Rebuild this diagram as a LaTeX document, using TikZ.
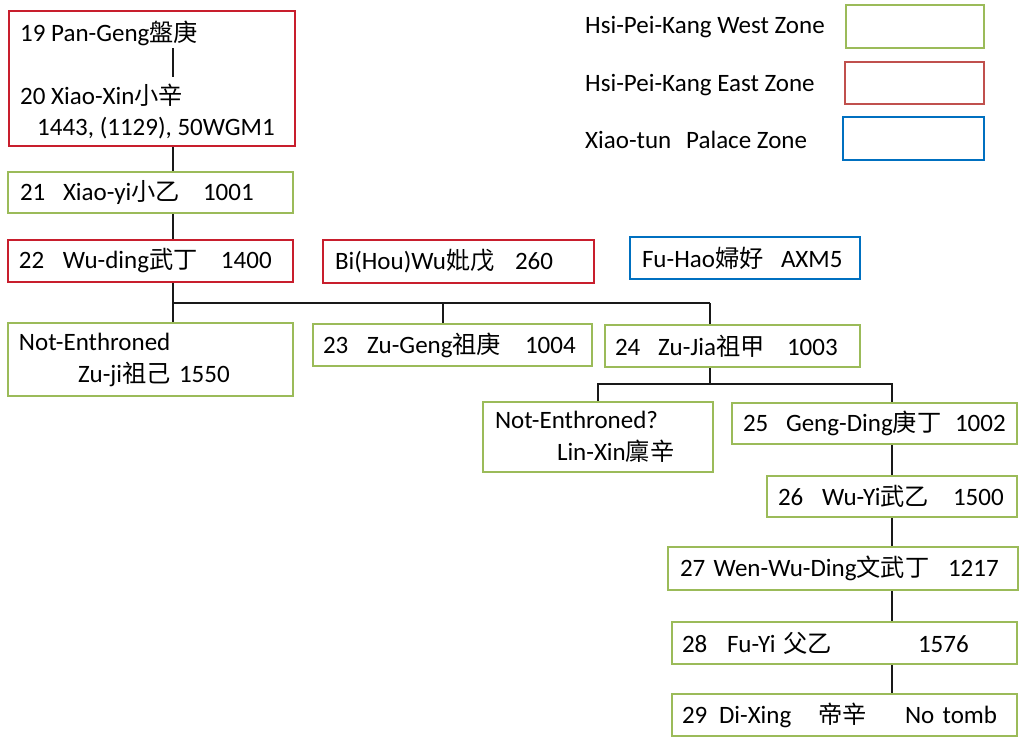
\documentclass[tikz,border=0pt]{standalone}
\usepackage{fontspec}
\setmainfont{Carlito}
\newfontfamily\cjkfont[Scale=0.97]{Noto Sans CJK TC}
\newcommand{\zh}[1]{{\cjkfont #1}}
\usetikzlibrary{backgrounds}
\definecolor{zgreen}{RGB}{155,187,89}
\definecolor{zred}{RGB}{200,30,45}
\definecolor{zlred}{RGB}{192,80,77}
\definecolor{zblue}{RGB}{0,112,192}
\begin{document}
\begin{tikzpicture}[x=1pt,y=-1pt,
  font=\fontsize{25}{32}\selectfont,
  box/.style={draw, line width=2.6pt, align=left, inner ysep=0pt, fill=white},
  wz/.style={box, draw=zgreen},
  ez/.style={box, draw=zred},
  lez/.style={box, draw=zlred},
  pz/.style={box, draw=zblue},
  conn/.style={draw=black!90, line width=1.9pt},
  lbl/.style={anchor=west, inner sep=0pt}]
\useasboundingbox (0,0) rectangle (1020,737);

% Legend
\node[lbl] (lgWt) at (585,27) {Hsi-Pei-Kang West Zone};
\node[lbl] (lgEt) at (585,85) {Hsi-Pei-Kang East Zone};
\node[lbl] (lgPt) at (585,140) {\makebox[101pt][l]{Xiao-tun}Palace Zone};
\node[wz, minimum width=138pt, minimum height=43pt] (lgW) at (915,26.5) {};
\node[lez, minimum width=139pt, minimum height=42pt] (lgE) at (914.5,83) {};
\node[pz, minimum width=141pt, minimum height=43pt] (lgP) at (913.5,138.5) {};

% Box 19/20
\node[ez, minimum width=286pt, minimum height=135pt] (b19) at (152,78.5) {};
\node[lbl, inner ysep=2.5pt] (p19) at (20,33) {19 Pan-Geng\zh{盤庚}};
\node[lbl, inner ysep=6.5pt] (p20) at (20,95) {20 Xiao-Xin\zh{小辛}};
\node[lbl] (p20b) at (37,128) {1443, (1129), 50WGM1};

\node[wz, minimum width=285pt, minimum height=41pt, text width=261pt, inner xsep=12pt] (b21) at (150.5,192.5)
  {\makebox[43pt][l]{21}\makebox[140pt][l]{Xiao-yi\zh{小乙}}1001};
\node[ez, minimum width=285pt, minimum height=42pt, text width=263pt, inner xsep=11pt] (b22) at (150.5,261)
  {\makebox[44pt][l]{22}\makebox[158pt][l]{Wu-ding\zh{武丁}}1400};
\node[ez, minimum width=271pt, minimum height=43pt, text width=247pt, inner xsep=12pt] (bbw) at (458.5,261.5)
  {\makebox[180pt][l]{Bi(Hou)Wu\zh{妣戊}}260};
\node[pz, minimum width=230pt, minimum height=42pt, text width=206pt, inner xsep=12pt] (bfh) at (745,258)
  {\makebox[139pt][l]{Fu-Hao\zh{婦好}}AXM5};

\node[wz, minimum width=285pt, minimum height=73pt, text width=263pt, inner xsep=11pt] (bzj) at (150.5,359.5)
  {Not-Enthroned\\\hspace*{59pt}Zu-ji\zh{祖己} 1550};
\node[wz, minimum width=279pt, minimum height=42pt, text width=259pt, inner xsep=10pt] (b23) at (452.5,345)
  {\makebox[44pt][l]{23}\makebox[158pt][l]{Zu-Geng\zh{祖庚}}1004};
\node[wz, minimum width=255pt, minimum height=42pt, text width=235pt, inner xsep=10pt] (b24) at (732.5,346)
  {\makebox[43pt][l]{24}\makebox[129pt][l]{Zu-Jia\zh{祖甲}}1003};

\node[wz, minimum width=230pt, minimum height=70pt, text width=206pt, inner xsep=12pt] (blx) at (598,437)
  {Not-Enthroned?\\\hspace*{62pt}Lin-Xin\zh{廩辛}};
\node[wz, minimum width=285pt, minimum height=41pt, text width=263pt, inner xsep=11pt] (b25) at (874.5,423.5)
  {\makebox[43pt][l]{25}\makebox[169pt][l]{Geng-Ding\zh{庚丁}}1002};
\node[wz, minimum width=250pt, minimum height=41pt, text width=228pt, inner xsep=11pt] (b26) at (892,496.5)
  {\makebox[44pt][l]{26}\makebox[131pt][l]{Wu-Yi\zh{武乙}}1500};
\node[wz, minimum width=350pt, minimum height=43pt, text width=326pt, inner xsep=12pt] (b27) at (843,568.5)
  {\makebox[268pt][l]{27 Wen-Wu-Ding\zh{文武丁}}1217};
\node[wz, minimum width=345pt, minimum height=42pt, text width=325pt, inner xsep=10pt] (b28) at (844.5,643)
  {\makebox[45pt][l]{28}\makebox[56pt][l]{Fu-Yi}\makebox[135pt][l]{\zh{父乙}}1576};
\node[wz, minimum width=345pt, minimum height=42pt, text width=325pt, inner xsep=10pt] (b29) at (844.5,715)
  {\makebox[37pt][l]{29}\makebox[99pt][l]{Di-Xing}\makebox[87pt][l]{\zh{帝辛}}No tomb};

% Connectors
\coordinate (tr) at (173,303);
\coordinate (d23) at (443,303);
\coordinate (d24) at (710,303);
\coordinate (br) at (710,384);
\coordinate (d25) at (892,384);
\draw[conn] (p19.south -| tr) -- (p20.north -| tr);
\begin{pgfonlayer}{background}
\draw[conn] (b19.south -| tr) -- (b21.north -| tr);
\draw[conn] (b21.south -| tr) -- (b22.north -| tr);
\draw[conn] (b22.south -| tr) -- (bzj.north -| tr);
\draw[conn] (tr) -- (d24);
\draw[conn] (d23) -- (b23.north -| d23);
\draw[conn] (d24) -- (b24.north -| d24);
\draw[conn] (b24.south -| br) -- (br);
\draw[conn] (blx.north) -- (blx.north |- br) -- (d25) -- (b25.north -| d25);
\draw[conn] (b25.south -| d25) -- (b26.north -| d25);
\draw[conn] (b26.south -| d25) -- (b27.north -| d25);
\draw[conn] (b27.south -| d25) -- (b28.north -| d25);
\draw[conn] (b28.south -| d25) -- (b29.north -| d25);
\end{pgfonlayer}
\end{tikzpicture}
\end{document}
